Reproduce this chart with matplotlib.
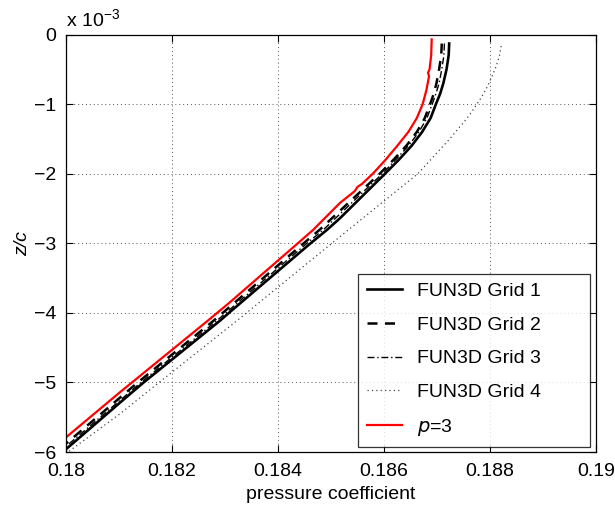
# Surface pressure coefficient profiles near the wall: FUN3D grids vs p=3 solution

import matplotlib.pyplot as plt

plt.rcParams["font.family"] = ["Liberation Sans", "DejaVu Sans"]
plt.rcParams["mathtext.default"] = "regular"

# z/c values are stored in units of 1e-3
grid1_z = [-0.13, -0.3, -0.5, -0.7, -0.85, -1.0, -1.2, -1.4, -1.6, -1.8, -2.0, -2.64, -2.81, -3.01, -3.99,
           -4.11, -5.01, -5.29, -5.96]
grid1_cp = [0.18723, 0.18722, 0.18718, 0.18712, 0.18706, 0.18698, 0.18688, 0.18672, 0.18652, 0.18628,
            0.18602, 0.18517, 0.18492, 0.18460, 0.18309, 0.18291, 0.18145, 0.18102, 0.18000]

grid2_z = [-0.13, -0.3, -0.5, -0.7, -0.85, -1.0, -1.2, -1.4, -1.6, -1.8, -2.0, -2.81, -3.01, -4.11, -5.01,
           -5.88]
grid2_cp = [0.18709, 0.18708, 0.18704, 0.18699, 0.18694, 0.18687, 0.18677, 0.18662, 0.18642, 0.18618,
            0.18592, 0.18478, 0.18447, 0.18279, 0.18134, 0.18000]

grid3_z = [-0.13, -0.3, -0.5, -0.7, -0.85, -1.0, -1.2, -1.4, -1.6, -1.8, -2.0, -2.81, -3.01, -4.11, -5.01,
           -5.92]
grid3_cp = [0.18714, 0.18713, 0.18709, 0.18704, 0.18698, 0.18691, 0.18681, 0.18666, 0.18646, 0.18622,
            0.18597, 0.18485, 0.18453, 0.18285, 0.18140, 0.18000]

grid4_z = [-0.165, -0.3, -0.45, -0.6, -0.75, -0.9, -1.05, -1.2, -1.5, -2.0, -2.88, -4.11, -5.01, -5.45, -6.0]
grid4_cp = [0.18821, 0.18818, 0.18812, 0.18804, 0.18795, 0.18784, 0.18771, 0.18757, 0.18724, 0.18664,
            0.18521, 0.18323, 0.18174, 0.18102, 0.18004]

p3_z = [-0.07, -0.3, -0.5, -0.55, -0.6, -0.8, -1.0, -1.2, -1.4, -1.6, -1.8, -2.0, -2.15, -2.19, -2.25,
        -2.42, -2.81, -3.01, -3.85, -4.11, -5.01, -5.14, -5.79]
p3_cp = [0.18690, 0.18689, 0.18686, 0.18683, 0.18685, 0.18680, 0.18673, 0.18662, 0.18646, 0.18625,
         0.18603, 0.18579, 0.18558, 0.18550, 0.18545, 0.18517, 0.18466, 0.18436, 0.18309, 0.18268,
         0.18123, 0.18102, 0.18000]

x_ticks = [0.18, 0.182, 0.184, 0.186, 0.188, 0.19]
y_ticks = [-6, -5, -4, -3, -2, -1, 0]

fig = plt.figure(figsize=(6.15, 5.11), dpi=100)
ax = fig.add_axes([66 / 615, 1 - 452 / 511, 530 / 615, 417.5 / 511])

ax.plot(grid1_cp, grid1_z, color="black", lw=1.9, label="FUN3D Grid 1")
ax.plot(grid2_cp, grid2_z, color="black", lw=1.8, dashes=(4, 3), label="FUN3D Grid 2")
ax.plot(grid3_cp, grid3_z, color="black", lw=1.0, dashes=(5, 2, 1, 2), label="FUN3D Grid 3")
ax.plot(grid4_cp, grid4_z, color="#444444", lw=0.9, dashes=(1, 2.5), label="FUN3D Grid 4")
ax.plot(p3_cp, p3_z, color="red", lw=1.6, label="$\\mathit{p}$=3")

ax.set_xlim(0.18, 0.19)
ax.set_ylim(-6, 0)
ax.set_xticks(x_ticks)
ax.set_xticklabels(["%g" % t for t in x_ticks])
ax.set_yticks(y_ticks)
ax.set_yticklabels(["\u2212%d" % -t if t < 0 else "0" for t in y_ticks])
ax.tick_params(direction="in", top=True, right=True, labelsize=14, length=5, width=0.8)
ax.tick_params(axis="x", pad=8)
ax.tick_params(axis="y", pad=7)
ax.grid(True, linestyle=(0, (1, 3)), color="#555555", lw=0.7)
for side in ax.spines.values():
    side.set_linewidth(0.9)

ax.set_xlabel("pressure coefficient", fontsize=14, labelpad=4)
ax.set_ylabel("z/c", fontsize=14, style="italic", labelpad=2)
ax.text(0.0, 1.01, "x 10$^{\u22123}$", transform=ax.transAxes, fontsize=14, ha="left", va="bottom")

# legend stretched across a fixed box in the lower right corner
leg = ax.legend(loc="lower right", bbox_to_anchor=(292 / 530, 5 / 417.5, 232 / 530, 0.1),
                mode="expand", borderaxespad=0, fontsize=14, frameon=True, fancybox=False,
                edgecolor="black", handlelength=1.8, handletextpad=0.8, labelspacing=0.83,
                borderpad=0.45)
leg.get_frame().set_linewidth(0.9)

fig.savefig("out.png", dpi=100)
